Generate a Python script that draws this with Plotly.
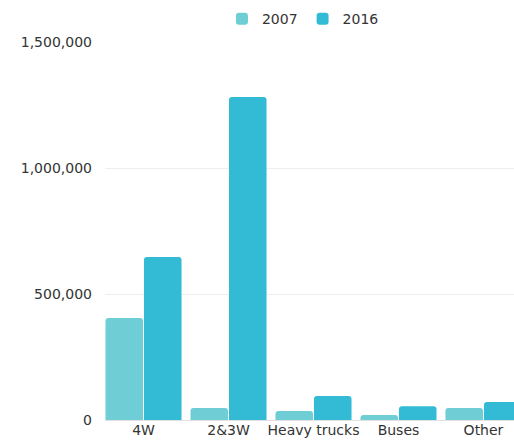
import plotly.graph_objects as go

categories = ["4W", "2&3W", "Heavy trucks", "Buses", "Other"]
sales_2007 = [405000, 48000, 36000, 20000, 48000]
sales_2016 = [647000, 1282000, 95000, 55000, 71000]
y_ticks = [0, 500000, 1000000, 1500000]
y_tick_labels = ["0", "500,000", "1,000,000", "1,500,000"]

fig = go.Figure()
fig.add_trace(go.Bar(name="2007", x=categories, y=sales_2007,
                     marker=dict(color="#6fcdd5", line=dict(width=0))))
fig.add_trace(go.Bar(name="2016", x=categories, y=sales_2016,
                     marker=dict(color="#33bbd5", line=dict(width=0))))

font = "'DejaVu Sans', sans-serif"
fig.update_layout(
    width=514, height=445,
    margin=dict(l=105, r=0, t=42, b=25, autoexpand=False),
    paper_bgcolor="white", plot_bgcolor="white",
    barmode="group", bargap=0.094, bargroupgap=0.025,
    barcornerradius=3,
    font=dict(family=font, size=14, color="#333333"),
    legend=dict(orientation="h", x=0.484, xanchor="center",
                yref="container", y=0.993, yanchor="top",
                font=dict(size=14, color="#333333"),
                itemwidth=30),
    xaxis=dict(range=[-0.453, 4.359], showgrid=False, showline=False,
               ticks="", tickfont=dict(size=14, color="#333333")),
    yaxis=dict(range=[0, 1500000], tickvals=y_ticks, ticktext=y_tick_labels,
               showgrid=True, gridcolor="#eeeeee", gridwidth=1,
               zeroline=True, zerolinecolor="#e2e2e2", zerolinewidth=1,
               ticks="", ticklabelstandoff=12,
               tickfont=dict(size=14, color="#333333")),
)

fig.write_html("out.html")
